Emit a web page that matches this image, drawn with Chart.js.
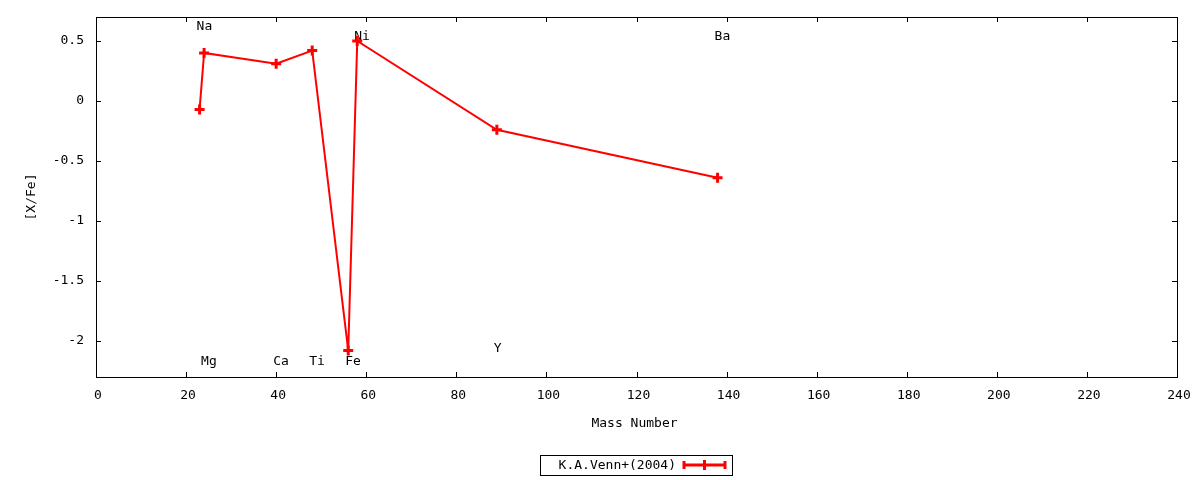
<!DOCTYPE html>
<html>
<head>
<meta charset="utf-8">
<script src="https://cdn.jsdelivr.net/npm/chart.js@4/dist/chart.umd.min.js"></script>
<style>
  html, body { margin: 0; padding: 0; background: #ffffff; }
  #wrap { width: 1200px; height: 480px; }
</style>
</head>
<body>
<div id="wrap"><canvas id="c" width="1200" height="480"></canvas></div>
<script>
// ---- data ----
const seriesName = 'K.A.Venn+(2004)';
const massNumbers = [23, 24, 40, 48, 56, 58, 89, 138];
const xFe = [-0.07, 0.40, 0.31, 0.42, -2.08, 0.50, -0.24, -0.64];

const elementNames = ['Na', 'Mg', 'Ca', 'Ti', 'Fe', 'Ni', 'Y', 'Ba'];
const elementLabelX = [23, 24, 40, 48, 56, 58, 89, 138];
const elementLabelY = [0.617, -2.175, -2.175, -2.175, -2.175, 0.533, -2.067, 0.533];

const xTickValues = [0, 20, 40, 60, 80, 100, 120, 140, 160, 180, 200, 220, 240];
const yTickValues = [-2, -1.5, -1, -0.5, 0, 0.5];
const yTickLabels = ['-2', '-1.5', '-1', '-0.5', '0', '0.5'];
const xTitle = 'Mass Number';
const yTitle = '[X/Fe]';

const FONT = "'DejaVu Sans Mono', monospace";
const RED = '#ff0000';

Chart.defaults.font.family = FONT;
Chart.defaults.font.size = 13;
Chart.defaults.color = '#000000';

const points = massNumbers.map((m, i) => ({ x: m, y: xFe[i] }));

const gnuplotDeco = {
  id: 'gnuplotDeco',
  beforeDatasetsDraw(chart) {
    const ctx = chart.ctx;
    const xs = chart.scales.x, ys = chart.scales.y;
    ctx.save();
    ctx.font = '13px ' + FONT;
    ctx.fillStyle = '#000';
    ctx.textAlign = 'left';
    ctx.textBaseline = 'middle';
    elementNames.forEach((n, i) => {
      ctx.fillText(n, xs.getPixelForValue(elementLabelX[i]) - 3, ys.getPixelForValue(elementLabelY[i]));
    });
    ctx.restore();
  },
  afterDraw(chart) {
    const ctx = chart.ctx;
    const a = chart.chartArea;
    const xs = chart.scales.x, ys = chart.scales.y;
    const TL = 5;
    ctx.save();
    ctx.strokeStyle = '#000';
    ctx.lineWidth = 1;
    // frame
    ctx.strokeRect(Math.round(a.left) + 0.5, Math.round(a.top) + 0.5,
      Math.round(a.right - a.left), Math.round(a.bottom - a.top));
    // inward ticks
    ctx.beginPath();
    xTickValues.forEach(v => {
      const px = Math.round(xs.getPixelForValue(v)) + 0.5;
      ctx.moveTo(px, a.bottom); ctx.lineTo(px, a.bottom - TL);
      ctx.moveTo(px, a.top); ctx.lineTo(px, a.top + TL);
    });
    yTickValues.forEach(v => {
      const py = Math.round(ys.getPixelForValue(v)) + 0.5;
      ctx.moveTo(a.left, py); ctx.lineTo(a.left + TL, py);
      ctx.moveTo(a.right, py); ctx.lineTo(a.right - TL, py);
    });
    ctx.stroke();

    // axis titles
    ctx.fillStyle = '#000';
    ctx.font = '13px ' + FONT;
    ctx.textAlign = 'center';
    ctx.textBaseline = 'middle';
    ctx.fillText(xTitle, (a.left + a.right) / 2 - 2, 424);
    ctx.save();
    ctx.translate(32, (a.top + a.bottom) / 2);
    ctx.rotate(-Math.PI / 2);
    ctx.fillText(yTitle, 0, 0);
    ctx.restore();

    // legend box
    ctx.strokeRect(540.5, 455.5, 192, 20);
    ctx.textAlign = 'right';
    ctx.fillText(seriesName, 676, 465.5);
    ctx.strokeStyle = RED;
    ctx.lineWidth = 3;
    ctx.beginPath();
    ctx.moveTo(683, 465); ctx.lineTo(726, 465);
    ctx.moveTo(684, 461); ctx.lineTo(684, 469);
    ctx.moveTo(725, 461); ctx.lineTo(725, 469);
    ctx.moveTo(704.5, 460); ctx.lineTo(704.5, 470);
    ctx.stroke();
    ctx.restore();
  }
};

new Chart(document.getElementById('c'), {
  type: 'scatter',
  data: {
    datasets: [{
      label: seriesName,
      data: points,
      showLine: true,
      borderColor: RED,
      backgroundColor: RED,
      borderWidth: 2,
      pointStyle: 'cross',
      pointRadius: 5,
      pointBorderWidth: 3,
      pointBorderColor: RED,
      pointHoverRadius: 5,
      tension: 0
    }]
  },
  options: {
    responsive: false,
    animation: false,
    events: [],
    layout: { padding: { left: 0, top: 17, right: 23, bottom: 0 } },
    plugins: { legend: { display: false }, tooltip: { enabled: false } },
    scales: {
      x: {
        type: 'linear',
        min: 0, max: 240,
        afterFit: s => { s.height = 103; s.paddingLeft = 0; s.paddingRight = 0; },
        afterBuildTicks: s => { s.ticks = xTickValues.map(v => ({ value: v })); },
        grid: { display: false, drawTicks: false },
        border: { display: false },
        ticks: {
          padding: 11,
          labelOffset: 2,
          maxRotation: 0,
          autoSkip: false,
          color: '#000',
          font: { family: FONT, size: 13 },
          callback: v => String(v)
        }
      },
      y: {
        type: 'linear',
        min: -2.3, max: 0.7,
        afterFit: s => { s.width = 96; s.paddingTop = 0; s.paddingBottom = 0; },
        afterBuildTicks: s => { s.ticks = yTickValues.map(v => ({ value: v })); },
        grid: { display: false, drawTicks: false },
        border: { display: false },
        ticks: {
          padding: 12,
          autoSkip: false,
          color: '#000',
          font: { family: FONT, size: 13 },
          callback: v => {
            const i = yTickValues.indexOf(v);
            return i >= 0 ? yTickLabels[i] : '';
          }
        }
      }
    }
  },
  plugins: [gnuplotDeco]
});
</script>
</body>
</html>
